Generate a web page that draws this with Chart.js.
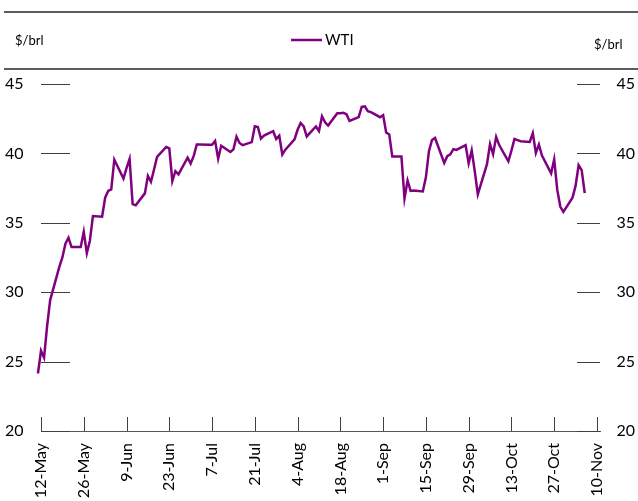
<!DOCTYPE html>
<html>
<head>
<meta charset="utf-8">
<script src="https://cdn.jsdelivr.net/npm/chart.js@4.4.1/dist/chart.umd.min.js"></script>
<style>
  html, body { margin: 0; padding: 0; background: #fff; overflow: hidden; }
  #wrap { position: relative; width: 638px; height: 501px; }
</style>
</head>
<body>
<div id="wrap"><canvas id="mainChart"></canvas></div>
<script>
// WTI daily close, $/brl (holidays carry the previous close)
const dates = [
  '2020-05-11','2020-05-12','2020-05-13','2020-05-14','2020-05-15','2020-05-18','2020-05-19','2020-05-20','2020-05-21','2020-05-22',
  '2020-05-25','2020-05-26','2020-05-27','2020-05-28','2020-05-29','2020-06-01','2020-06-02','2020-06-03','2020-06-04','2020-06-05',
  '2020-06-08','2020-06-09','2020-06-10','2020-06-11','2020-06-12','2020-06-15','2020-06-16','2020-06-17','2020-06-18','2020-06-19',
  '2020-06-22','2020-06-23','2020-06-24','2020-06-25','2020-06-26','2020-06-29','2020-06-30','2020-07-01','2020-07-02','2020-07-03',
  '2020-07-06','2020-07-07','2020-07-08','2020-07-09','2020-07-10','2020-07-13','2020-07-14','2020-07-15','2020-07-16','2020-07-17',
  '2020-07-20','2020-07-21','2020-07-22','2020-07-23','2020-07-24','2020-07-27','2020-07-28','2020-07-29','2020-07-30','2020-07-31',
  '2020-08-03','2020-08-04','2020-08-05','2020-08-06','2020-08-07','2020-08-10','2020-08-11','2020-08-12','2020-08-13','2020-08-14',
  '2020-08-17','2020-08-18','2020-08-19','2020-08-20','2020-08-21','2020-08-24','2020-08-25','2020-08-26','2020-08-27','2020-08-28',
  '2020-08-31','2020-09-01','2020-09-02','2020-09-03','2020-09-04','2020-09-07','2020-09-08','2020-09-09','2020-09-10','2020-09-11',
  '2020-09-14','2020-09-15','2020-09-16','2020-09-17','2020-09-18','2020-09-21','2020-09-22','2020-09-23','2020-09-24','2020-09-25',
  '2020-09-28','2020-09-29','2020-09-30','2020-10-01','2020-10-02','2020-10-05','2020-10-06','2020-10-07','2020-10-08','2020-10-09',
  '2020-10-12','2020-10-13','2020-10-14','2020-10-15','2020-10-16','2020-10-19','2020-10-20','2020-10-21','2020-10-22','2020-10-23',
  '2020-10-26','2020-10-27','2020-10-28','2020-10-29','2020-10-30','2020-11-02','2020-11-03','2020-11-04','2020-11-05','2020-11-06'
];
const wti = [
  24.14, 25.78, 25.29, 27.56, 29.43, 31.82, 32.50, 33.49, 33.92, 33.25,
  33.25, 34.35, 32.81, 33.71, 35.49, 35.44, 36.81, 37.29, 37.41, 39.55,
  38.19, 38.94, 39.60, 36.34, 36.26, 37.12, 38.38, 37.96, 38.84, 39.75,
  40.46, 40.37, 38.01, 38.72, 38.49, 39.70, 39.27, 39.82, 40.65, 40.65,
  40.63, 40.62, 40.90, 39.62, 40.55, 40.10, 40.29, 41.20, 40.75, 40.59,
  40.81, 41.96, 41.90, 41.07, 41.29, 41.60, 41.04, 41.27, 39.92, 40.27,
  41.01, 41.70, 42.19, 41.95, 41.22, 41.94, 41.61, 42.67, 42.24, 42.01,
  42.89, 42.89, 42.93, 42.82, 42.34, 42.62, 43.35, 43.39, 43.04, 42.97,
  42.61, 42.76, 41.51, 41.37, 39.77, 39.77, 36.76, 38.05, 37.30, 37.33,
  37.26, 38.28, 40.16, 40.97, 41.11, 39.31, 39.80, 39.93, 40.31, 40.25,
  40.60, 39.29, 40.22, 38.72, 37.05, 39.22, 40.67, 39.95, 41.19, 40.60,
  39.43, 40.20, 41.04, 40.96, 40.88, 40.83, 41.46, 40.03, 40.64, 39.85,
  38.56, 39.57, 37.39, 36.17, 35.79, 36.81, 37.66, 39.15, 38.79, 37.14
];
const axisStart = '2020-05-12';
const tickLabels = ['12-May', '26-May', '9-Jun', '23-Jun', '7-Jul', '21-Jul', '4-Aug',
                    '18-Aug', '1-Sep', '15-Sep', '29-Sep', '13-Oct', '27-Oct', '10-Nov'];
const tickStepDays = 14;
const yTicks = [20, 25, 30, 35, 40, 45];
const unitLabel = '$/brl';

const dayMs = 86400000;
const points = dates.map((d, i) => ({ x: (Date.parse(d) - Date.parse(axisStart)) / dayMs, y: wti[i] }));

const FONT = 'Lato';
const INK = '#000000';
const TICK = '#404040';

// header rules, unit labels, legend and the short inner tick marks
const decor = {
    id: 'decor',
    afterDraw(chart) {
        const c = chart.ctx;
        const area = chart.chartArea;
        const W = chart.width;
        c.save();

        c.strokeStyle = '#262626';
        c.lineWidth = 1.3;
        [12, 69].forEach(y => {
            c.beginPath(); c.moveTo(4, y); c.lineTo(W, y); c.stroke();
        });

        c.fillStyle = INK;
        c.textBaseline = 'middle';
        c.font = '13px ' + FONT;
        c.textAlign = 'left';
        c.fillText(unitLabel, 15, 41);
        c.fillText(unitLabel, 594, 45);

        const ds = chart.data.datasets[0];
        c.strokeStyle = ds.borderColor;
        c.lineWidth = 2.5;
        c.beginPath(); c.moveTo(291, 40); c.lineTo(322, 40); c.stroke();
        c.font = '15px ' + FONT;
        c.fillText(ds.label, 325, 40);

        c.strokeStyle = TICK;
        c.lineWidth = 1;
        const ys = chart.scales.y;
        yTicks.forEach(v => {
            const py = Math.round(ys.getPixelForValue(v)) + 0.5;
            c.beginPath(); c.moveTo(area.left, py); c.lineTo(area.left + 29, py); c.stroke();
            c.beginPath(); c.moveTo(area.right - 23, py); c.lineTo(area.right, py); c.stroke();
        });
        const xs = chart.scales.x;
        tickLabels.forEach((_, i) => {
            const px = Math.round(xs.getPixelForValue(i * tickStepDays)) + 0.5;
            c.beginPath(); c.moveTo(px, area.bottom - 14); c.lineTo(px, area.bottom); c.stroke();
        });
        c.restore();
    }
};

const yAxis = (position, width) => ({
    type: 'linear',
    position: position,
    min: yTicks[0],
    max: yTicks[yTicks.length - 1],
    afterBuildTicks: s => { s.ticks = yTicks.map(v => ({ value: v })); },
    afterFit: s => { s.width = width; },
    grid: { display: false, drawTicks: false },
    border: { display: false },
    ticks: { crossAlign: 'far', color: INK, font: { family: FONT, size: 16 }, padding: 0 }
});

const ctx = document.getElementById('mainChart').getContext('2d');
const mainChart = new Chart(ctx, {
    type: 'line',
    data: {
        datasets: [{
            label: 'WTI',
            data: points,
            borderColor: '#800080',
            borderWidth: 2.5,
            pointRadius: 0,
            tension: 0,
            fill: false,
            clip: false
        }]
    },
    options: {
        responsive: true,
        maintainAspectRatio: false,
        animation: false,
        events: [],
        layout: { padding: { top: 84, left: 5, right: 3, bottom: 0 } },
        plugins: { legend: { display: false }, tooltip: { enabled: false } },
        scales: {
            x: {
                type: 'linear',
                min: 0,
                max: 183,
                afterBuildTicks: s => { s.ticks = tickLabels.map((_, i) => ({ value: i * tickStepDays })); },
                afterFit: s => { s.height = 70; },
                grid: { display: false, drawTicks: false },
                border: { display: true, color: '#595959', width: 1 },
                ticks: {
                    autoSkip: false,
                    maxRotation: 90,
                    minRotation: 90,
                    padding: 12,
                    color: INK,
                    font: { family: FONT, size: 16 },
                    callback: (v, i) => tickLabels[i]
                }
            },
            y: yAxis('left', 36),
            y2: yAxis('right', 35)
        }
    },
    plugins: [decor]
});
</script>
</body>
</html>
